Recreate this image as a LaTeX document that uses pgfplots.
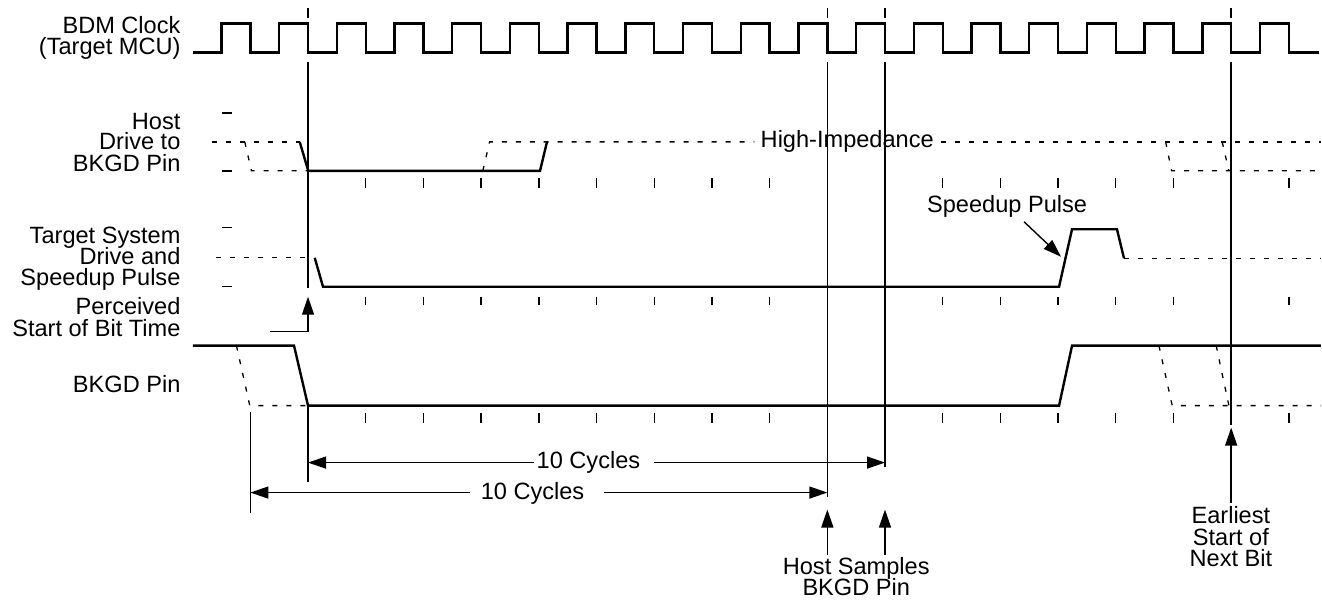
\documentclass[border=0pt]{standalone}
\usepackage{fontspec}
\setmainfont{Liberation Sans}
\usepackage{pgfplots}
\pgfplotsset{compat=1.18}
\usetikzlibrary{arrows.meta}
\tikzset{
  sig/.style={black,line width=1.2pt,line join=miter},
  thn/.style={black,line width=0.7pt},
  dsh/.style={black,line width=0.65pt,dash pattern=on 2.5pt off 4.5pt},
  arr/.style={black,line width=0.7pt,-{Triangle[length=9pt,width=6pt]}},
  lbl/.style={anchor=base east,inner sep=0pt},
  ctr/.style={anchor=base,inner sep=0pt},
}
\begin{document}
\begin{tikzpicture}[font=\fontsize{11.8}{13}\selectfont]
\begin{axis}[width=661pt,height=300pt,scale only axis,
  xmin=0,xmax=1322,ymin=0,ymax=600,y dir=reverse,
  hide axis,clip=false,unbounded coords=jump]
\addplot[draw=none] coordinates {(0,0) (1322,600)};
% ---- BDM clock
\addplot[sig,const plot mark left] coordinates {
(193,52.5) (221.7,23.5) (250.6,52.5) (279.4,23.5) (308.3,52.5)
(337.2,23.5) (366.1,52.5) (394.9,23.5) (423.8,52.5) (452.7,23.5) (481.6,52.5)
(510.4,23.5) (539.3,52.5) (568.2,23.5) (597.1,52.5) (625.9,23.5) (654.8,52.5)
(683.7,23.5) (712.6,52.5) (741.4,23.5) (770.3,52.5) (799.2,23.5) (828.1,52.5)
(856.9,23.5) (885.8,52.5) (914.7,23.5) (943.6,52.5) (972.4,23.5) (1001.3,52.5)
(1030.2,23.5) (1059.1,52.5) (1087.9,23.5) (1116.8,52.5) (1145.7,23.5) (1174.6,52.5)
(1203.4,23.5) (1232.3,52.5) (1261.2,23.5) (1290.1,52.5) (1320,52.5)};
% clock marks above
\addplot[thn] coordinates {(308.3,8) (308.3,18) (308.3,nan) (828.1,8) (828.1,18) (828.1,nan)
(885.8,8) (885.8,18) (885.8,nan) (1232.3,8) (1232.3,18)};
% long vertical lines
\addplot[thn] coordinates {(308.3,62) (308.3,288) (308.3,nan) (308.3,406) (308.3,482) (308.3,nan)
(250.6,412) (250.6,513) (250.6,nan)
(828.1,62) (828.1,497) (828.1,nan) (885.8,62) (885.8,467) (885.8,nan)
(1232.3,62) (1232.3,425)};
% ---- Host drive to BKGD pin
\addplot[thn] coordinates {(222,113) (232,113) (222,nan) (222,171) (232,171)};
\addplot[dsh] coordinates {(212,142) (300,142)};
\addplot[dsh] coordinates {(245,142) (251.7,171) (308,171)};
\addplot[sig] coordinates {(300,142) (308.5,171) (540.5,171) (547.5,142)};
\addplot[dsh] coordinates {(483.3,171) (490,142) (755,142)};
\addplot[dsh] coordinates {(942,142) (1322,142)};
\addplot[dsh] coordinates {(1166.7,142) (1172.7,171) (1322,171)};
\addplot[dsh] coordinates {(1223.3,142) (1230,171)};
\addplot[thn] coordinates {
(366.1,178) (366.1,188) (366.1,nan) (423.8,178) (423.8,188) (423.8,nan)
(481.6,178) (481.6,188) (481.6,nan) (539.3,178) (539.3,188) (539.3,nan)
(597.1,178) (597.1,188) (597.1,nan) (654.8,178) (654.8,188) (654.8,nan)
(712.6,178) (712.6,188) (712.6,nan) (770.3,178) (770.3,188) (770.3,nan)
(943.6,178) (943.6,188) (943.6,nan) (1001.3,178) (1001.3,188) (1001.3,nan)
(1059.1,178) (1059.1,188) (1059.1,nan) (1116.8,178) (1116.8,188) (1116.8,nan)
(1174.6,178) (1174.6,188) (1174.6,nan) (1290.1,178) (1290.1,188)};
% ---- Target system drive and speedup pulse
\addplot[thn] coordinates {(222,228) (232,228) (222,nan) (222,287) (232,287)};
\addplot[dsh] coordinates {(216,258) (308,258)};
\addplot[sig] coordinates {(315,258) (323.3,287) (1060,287) (1073,229.5) (1118,229.5) (1125,258.5)};
\addplot[dsh] coordinates {(1125,258.5) (1322,258.5)};
\addplot[thn] coordinates {
(366.1,297) (366.1,305) (366.1,nan) (423.8,297) (423.8,305) (423.8,nan)
(481.6,297) (481.6,305) (481.6,nan) (539.3,297) (539.3,305) (539.3,nan)
(597.1,297) (597.1,305) (597.1,nan) (654.8,297) (654.8,305) (654.8,nan)
(712.6,297) (712.6,305) (712.6,nan) (770.3,297) (770.3,305) (770.3,nan)
(943.6,297) (943.6,305) (943.6,nan) (1001.3,297) (1001.3,305) (1001.3,nan)
(1059.1,297) (1059.1,305) (1059.1,nan) (1116.8,297) (1116.8,305) (1116.8,nan)
(1174.6,297) (1174.6,305) (1174.6,nan) (1290.1,297) (1290.1,305)};
\addplot[arr] coordinates {(1025,222) (1062,257)};
% perceived start arrow
\addplot[arr] coordinates {(270,332) (308.3,332) (308.3,297)};
% ---- BKGD pin
\addplot[sig] coordinates {(193,346) (294.3,346) (308.3,406) (1060,406) (1073,346) (1322,346)};
\addplot[dsh] coordinates {(236.7,346) (250,406) (308,406)};
\addplot[dsh] coordinates {(1160,346) (1173.3,406) (1322,406)};
\addplot[dsh] coordinates {(1217.3,346) (1230,406)};
\addplot[thn] coordinates {
(366.1,413) (366.1,423) (366.1,nan) (423.8,413) (423.8,423) (423.8,nan)
(481.6,413) (481.6,423) (481.6,nan) (539.3,413) (539.3,423) (539.3,nan)
(597.1,413) (597.1,423) (597.1,nan) (654.8,413) (654.8,423) (654.8,nan)
(712.6,413) (712.6,423) (712.6,nan) (770.3,413) (770.3,423) (770.3,nan)
(943.6,413) (943.6,423) (943.6,nan) (1001.3,413) (1001.3,423) (1001.3,nan)
(1059.1,413) (1059.1,423) (1059.1,nan) (1116.8,413) (1116.8,423) (1116.8,nan)
(1174.6,413) (1174.6,423) (1174.6,nan) (1290.1,413) (1290.1,423)};
% ---- 10 cycles arrows
\addplot[arr] coordinates {(534,463) (308.3,463)};
\addplot[arr] coordinates {(655,463) (885.8,463)};
\addplot[arr] coordinates {(470,493) (250.6,493)};
\addplot[arr] coordinates {(605,493) (828.1,493)};
% sample arrows
\addplot[arr] coordinates {(828.1,555) (828.1,510)};
\addplot[arr] coordinates {(885.8,555) (885.8,510)};
\addplot[arr] coordinates {(1232.3,503) (1232.3,428)};
% ---- texts
\node[lbl] at (axis cs:181,33.3) {BDM Clock};
\node[lbl] at (axis cs:181,54.3) {(Target MCU)};
\node[lbl] at (axis cs:181,129.3) {Host};
\node[lbl] at (axis cs:181,150) {Drive to};
\node[lbl] at (axis cs:181,171.7) {BKGD Pin};
\node[lbl] at (axis cs:181,243.3) {Target System};
\node[lbl] at (axis cs:181,265) {Drive and};
\node[lbl] at (axis cs:181,285.7) {Speedup Pulse};
\node[lbl] at (axis cs:181,315) {Perceived};
\node[lbl] at (axis cs:181,336.7) {Start of Bit Time};
\node[lbl] at (axis cs:181,392.7) {BKGD Pin};
\node[ctr] at (axis cs:848,148) {High-Impedance};
\node[ctr] at (axis cs:1008,213) {Speedup Pulse};
\node[ctr] at (axis cs:589,469) {10 Cycles};
\node[ctr] at (axis cs:533,500) {10 Cycles};
\node[ctr] at (axis cs:857,575) {Host Samples};
\node[ctr] at (axis cs:857,596) {BKGD Pin};
\node[ctr] at (axis cs:1232,524) {Earliest};
\node[ctr] at (axis cs:1232,545.5) {Start of};
\node[ctr] at (axis cs:1232,567) {Next Bit};
\end{axis}
\end{tikzpicture}
\end{document}
